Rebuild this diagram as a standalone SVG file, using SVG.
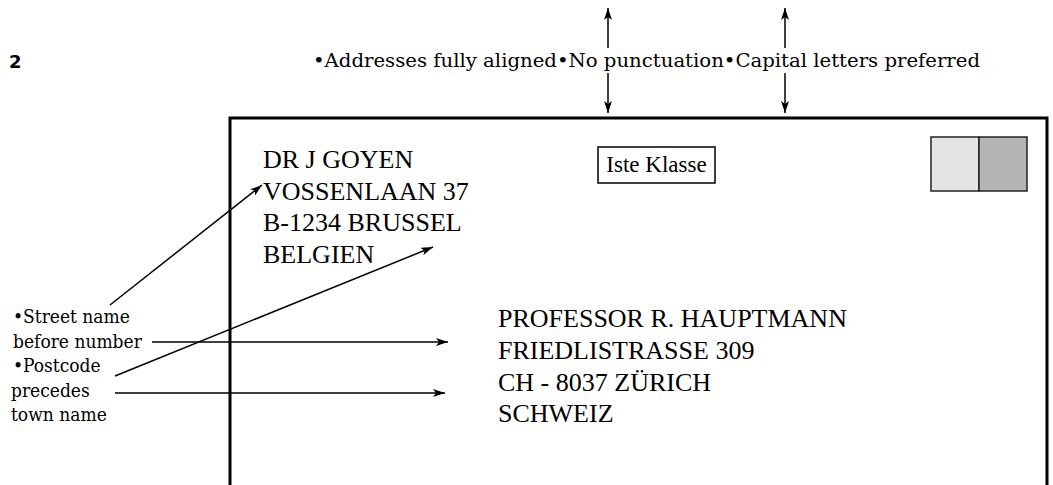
<svg xmlns="http://www.w3.org/2000/svg" width="1053" height="485" viewBox="0 0 1053 485">
<defs>
<marker id="ah" viewBox="0 0 12 8" refX="12" refY="4" markerWidth="12" markerHeight="8" markerUnits="userSpaceOnUse" orient="auto">
<path d="M0,0 L12,4 L0,8 L3,4 z" fill="#000"/>
</marker>
<style>
.note{font-family:"DejaVu Serif Condensed","DejaVu Serif",serif;font-stretch:condensed;font-size:19px;fill:#000}
.addr{font-family:"Liberation Serif","Times New Roman",serif;font-size:26px;fill:#000}
.conn{stroke:#000;stroke-width:1.5;fill:none;marker-end:url(#ah)}
</style>
</defs>
<rect width="1053" height="485" fill="#fff"/>
<text x="9" y="68" font-family="DejaVu Sans, sans-serif" font-weight="bold" font-size="18">2</text>
<g id="top-note">
<text class="note" x="313" y="67" textLength="667" lengthAdjust="spacingAndGlyphs">•Addresses fully aligned•No punctuation•Capital letters preferred</text>
</g>
<g id="envelope">
<path d="M230,490 V118 H1047 V490" fill="none" stroke="#000" stroke-width="3"/>
</g>
<g id="stamp">
<rect x="931" y="137" width="48" height="54" fill="#e4e4e4" stroke="#222" stroke-width="1.5"/>
<rect x="979" y="137" width="48" height="54" fill="#b4b4b4" stroke="#222" stroke-width="1.5"/>
</g>
<g id="class-label">
<rect x="598" y="147" width="117" height="36" fill="#fff" stroke="#000" stroke-width="1.5"/>
<text x="656.5" y="172" text-anchor="middle" font-family="Liberation Serif, serif" font-size="23">Iste Klasse</text>
</g>
<g id="sender">
<text class="addr" x="263" y="168">DR J GOYEN</text>
<text class="addr" x="263" y="200">VOSSENLAAN 37</text>
<text class="addr" x="263" y="231">B-1234 BRUSSEL</text>
<text class="addr" x="263" y="263">BELGIEN</text>
</g>
<g id="recipient">
<text class="addr" x="498" y="327">PROFESSOR R. HAUPTMANN</text>
<text class="addr" x="498" y="359">FRIEDLISTRASSE 309</text>
<text class="addr" x="498" y="391">CH - 8037 ZÜRICH</text>
<text class="addr" x="498" y="422">SCHWEIZ</text>
</g>
<g id="street-note">
<text class="note" x="13" y="323">•Street name</text>
<text class="note" x="13" y="348">before number</text>
</g>
<g id="postcode-note">
<text class="note" x="13" y="372">•Postcode</text>
<text class="note" x="11" y="397">precedes</text>
<text class="note" x="11" y="421">town name</text>
</g>
<g id="connectors">
<line class="conn" x1="608" y1="48" x2="608" y2="8"/>
<line class="conn" x1="608" y1="73" x2="608" y2="113"/>
<line class="conn" x1="785" y1="48" x2="785" y2="8"/>
<line class="conn" x1="785" y1="73" x2="785" y2="113"/>
<line class="conn" x1="110" y1="305" x2="262" y2="185"/>
<line class="conn" x1="115" y1="376" x2="433" y2="247"/>
<line class="conn" x1="152" y1="342" x2="448" y2="342"/>
<line class="conn" x1="115" y1="393" x2="445" y2="393"/>
</g>
</svg>
